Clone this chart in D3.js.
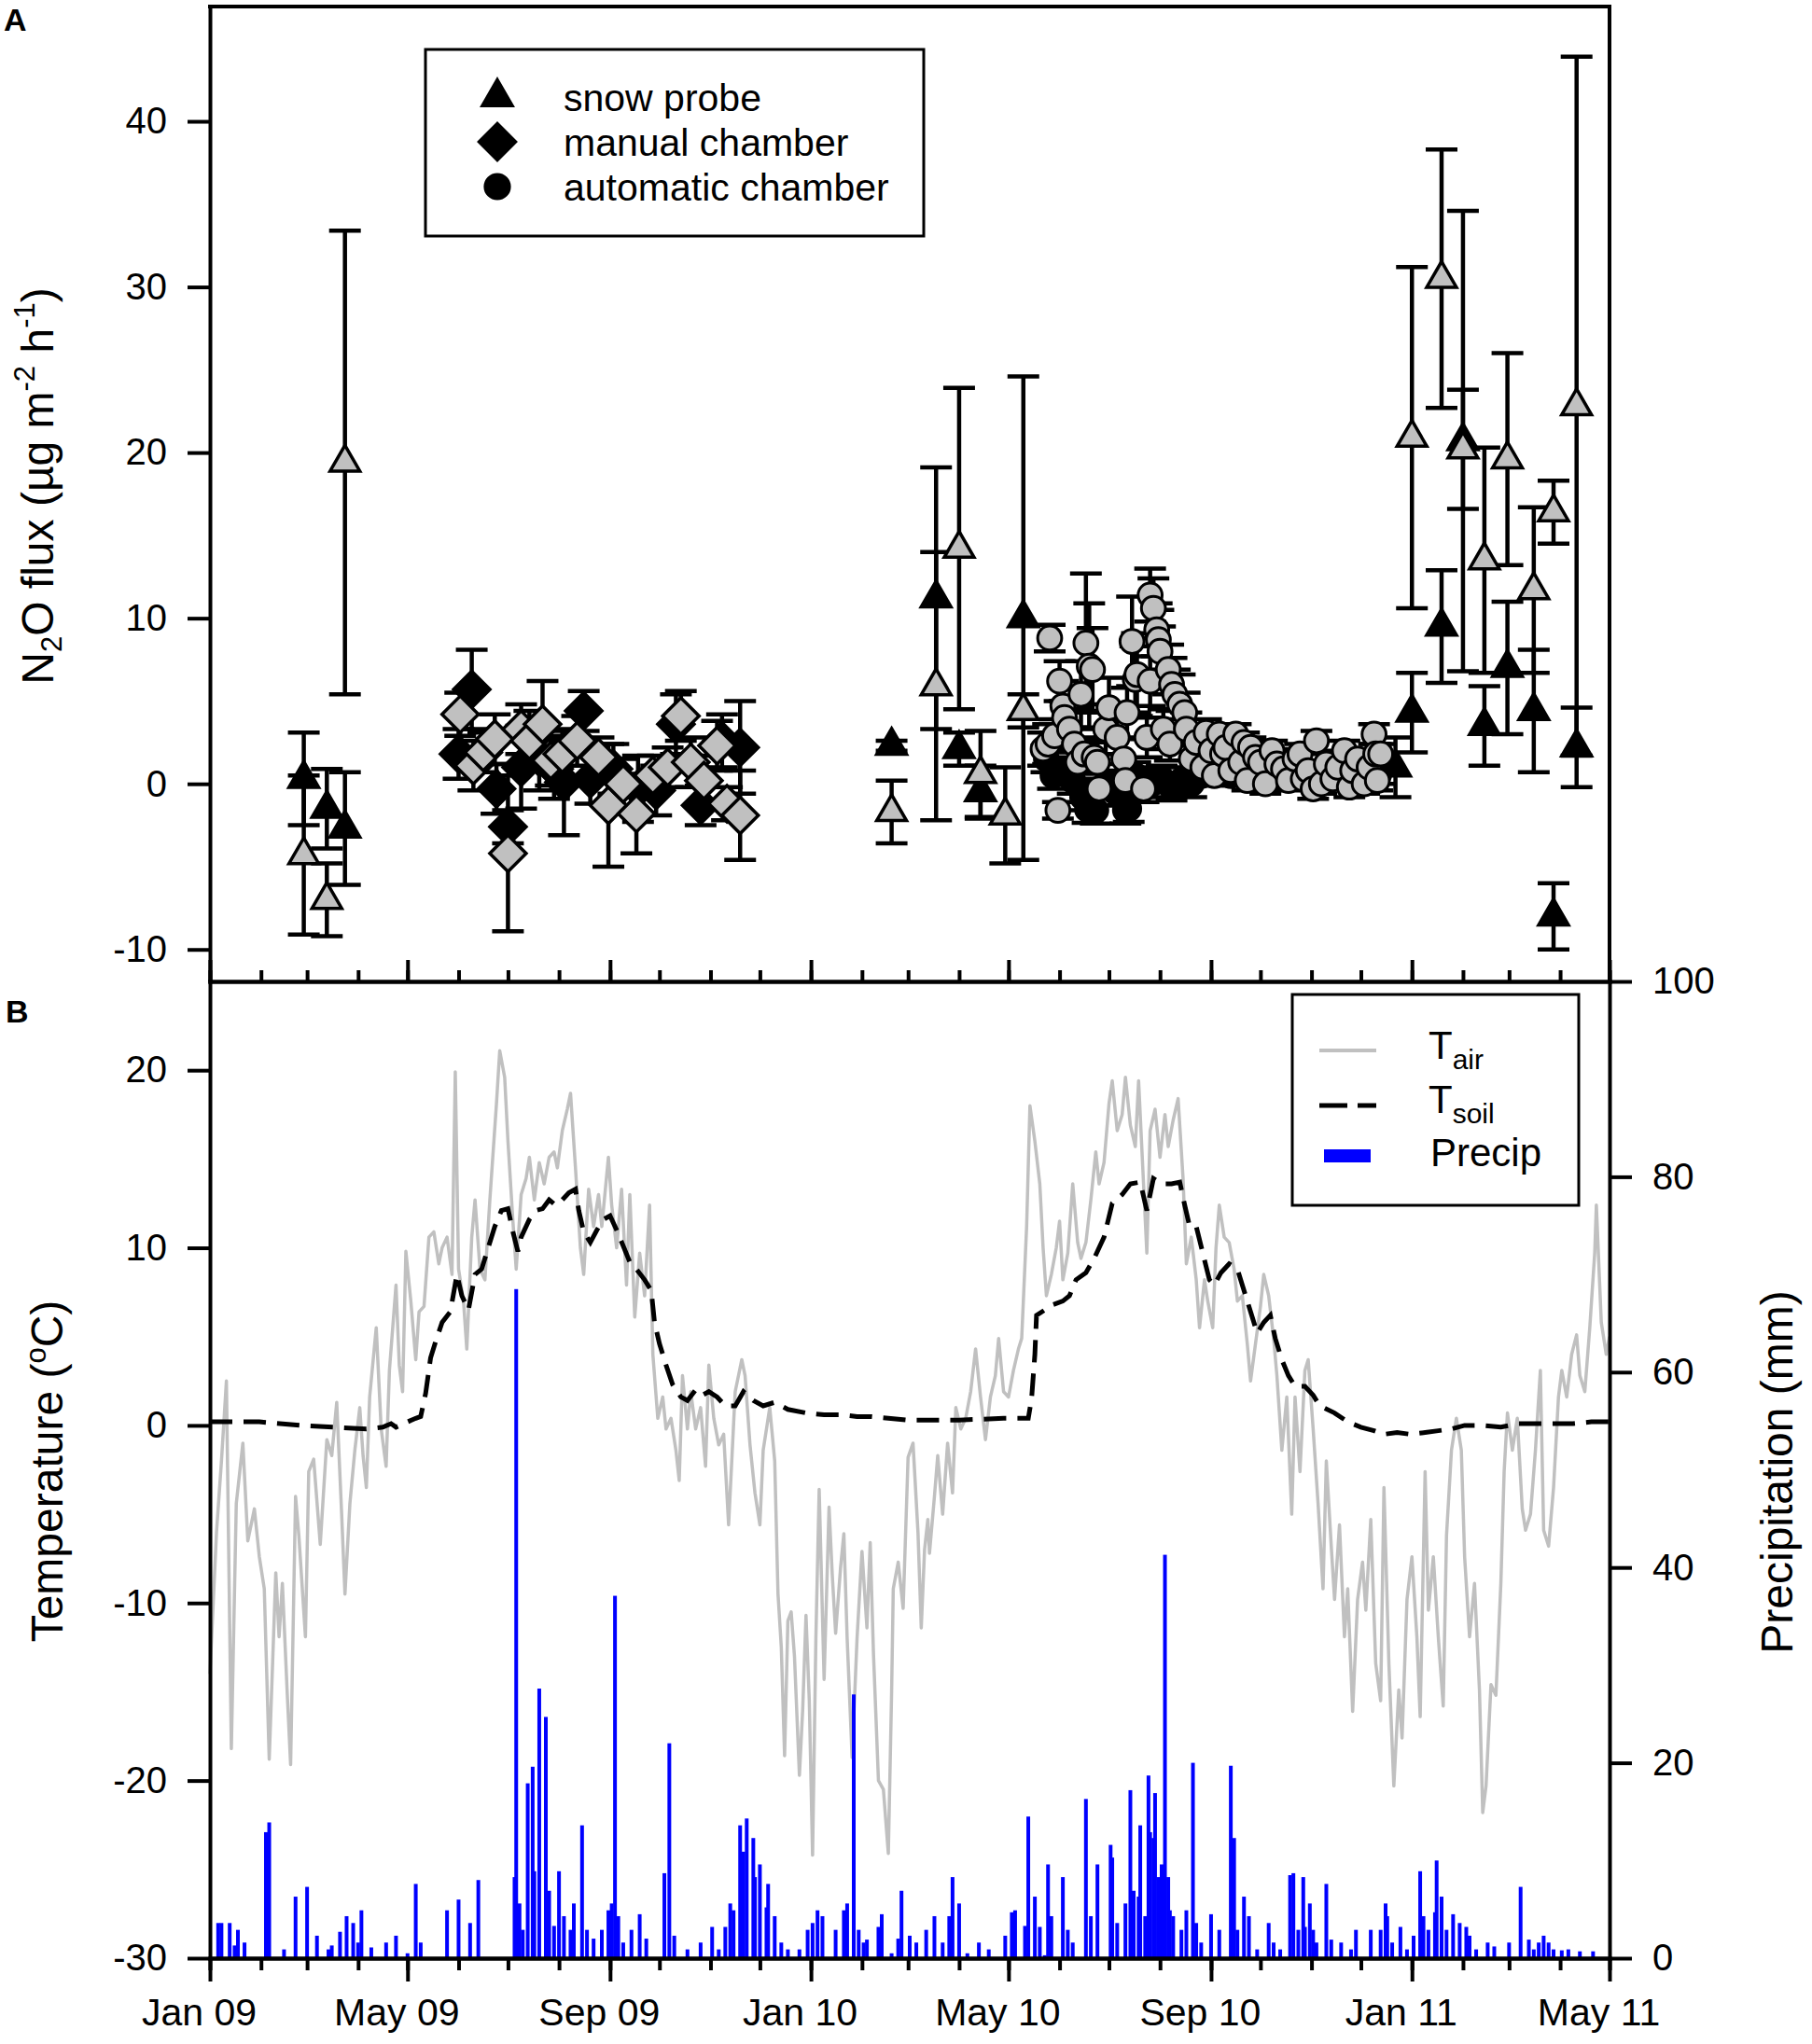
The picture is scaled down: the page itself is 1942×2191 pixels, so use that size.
<!DOCTYPE html>
<html>
<head>
<meta charset="utf-8">
<script src="https://cdn.jsdelivr.net/npm/d3@7"></script>
<style>
  body { margin: 0; background: #fff; }
  svg { display: block; font-family: "Liberation Sans", Arial, sans-serif; }
</style>
</head>
<body>
<svg id="chart" width="1942" height="2191"></svg>
<script>
// Data: days are counted from 1 Jan 2009
// Snow probe [day, flux, error]
const snowProbeBlack = [
  [57, 0.3, 2.8], [71, -1.5, 2.4], [82, -2.7, 3.4],
  [414, 2.3, 0.3], [441, 11.2, 7.9], [455, 2.1, 1.0], [468, -0.5, 1.6], [494, 10.0, 14.6],
  [720, 1.0, 1.8], [730, 4.3, 2.4], [748, 9.5, 3.4], [761, 20.7, 13.9], [774, 3.5, 2.4],
  [788, 7.0, 4.0], [804, 4.4, 3.7], [816, -8.0, 2.0], [830, 2.2, 2.4]
];
const snowProbeGray = [
  [57, -4.3, 4.8], [71, -7.0, 2.2], [82, 19.4, 14.0],
  [414, -1.7, 1.9], [441, 5.9, 8.1], [455, 14.2, 9.7], [468, 0.6, 2.6], [483, -1.9, 2.9], [494, 4.4, 1.0],
  [730, 20.9, 10.3], [748, 30.5, 7.8], [761, 20.2, 3.6], [774, 13.5, 6.8],
  [788, 19.6, 6.4], [804, 11.7, 5.0], [816, 16.4, 1.9], [830, 22.8, 21.1]
];

// Manual chamber [day, flux, error]
const manualBlack = [
  [151, 1.8, 1.5], [159, 5.7, 2.4], [174, -0.3, 1.5], [181, -2.6, 1.0], [189, 1.0, 2.5],
  [200, 1.6, 2.0], [209, 0.9, 1.8], [215, 0.1, 3.2], [227, 4.4, 1.2], [231, 0.3, 1.5],
  [245, 0.9, 1.5], [260, -0.3, 2.0], [271, -0.4, 1.5], [283, 3.6, 1.8], [298, -1.3, 1.2],
  [311, 2.6, 1.6], [322, 2.2, 2.8]
];
const manualGray = [
  [152, 4.2, 1.3], [160, 1.1, 1.5], [166, 1.9, 1.2], [173, 2.7, 1.5], [181, -4.2, 4.7],
  [189, 3.3, 1.5], [194, 2.6, 1.8], [202, 3.6, 2.6], [207, 1.4, 1.5], [214, 1.8, 1.4],
  [223, 2.6, 1.5], [236, 1.6, 1.2], [242, -1.3, 3.7], [251, 0.0, 1.5], [259, -1.8, 2.4],
  [269, 0.5, 1.2], [278, 1.0, 1.2], [286, 4.1, 1.5], [292, 1.3, 1.5], [300, 0.2, 1.5],
  [308, 2.3, 1.5], [314, -1.2, 1.0], [322, -1.9, 2.7]
];

// Automatic chamber [day, flux, error]
const autoBlack = [
  [508, 1.5, 0.8], [512, 0.5, 0.8], [518, 0.8, 0.8], [524, 0.2, 0.8], [530, -0.8, 0.8],
  [533, -1.55, 0.8], [538, -1.6, 0.8], [544, 0.0, 0.8], [550, -0.5, 0.8], [556, -1.6, 0.8],
  [558, -1.5, 0.8], [562, 0.5, 0.8], [566, 0.2, 0.8], [572, 0.0, 0.8], [578, 0.3, 0.8],
  [584, -0.2, 0.8], [590, 0.2, 0.8], [596, 0.0, 0.8], [602, 0.5, 0.6], [610, 0.8, 0.6],
  [620, 0.5, 0.6], [630, 0.8, 0.6], [640, 0.5, 0.6], [650, 0.3, 0.6], [660, 0.6, 0.6],
  [670, 0.4, 0.6], [680, 0.5, 0.6], [690, 0.6, 0.6], [700, 0.4, 0.6], [710, 0.6, 0.6]
];
const autoGray = [
  [506, 2.1, 1.0], [509, 2.4, 1.2], [510, 8.8, 0.8], [513, 2.9, 1.0], [515, -1.6, 0.5],
  [516, 6.2, 1.2], [518, 4.7, 1.5], [519, 4.0, 1.0], [522, 3.3, 1.2], [525, 2.4, 1.0],
  [527, 1.3, 1.0], [529, 5.4, 2.0], [531, 1.8, 1.0], [532, 8.5, 4.2], [534, 7.1, 3.8],
  [536, 6.9, 2.5], [537, 1.6, 1.0], [539, 1.3, 1.2], [540, -0.3, 1.0], [544, 3.3, 1.5],
  [546, 4.6, 1.8], [551, 2.8, 1.0], [555, 1.5, 1.2], [556, 0.2, 1.0], [557, 4.3, 1.5],
  [560, 8.6, 2.7], [562, 6.3, 2.0], [563, 6.6, 2.5], [567, -0.3, 0.8], [569, 2.8, 1.2],
  [571, 6.2, 1.5], [571, 11.4, 1.6], [573, 10.6, 1.8], [575, 9.3, 1.6], [576, 8.7, 1.8],
  [577, 8.0, 1.5], [579, 3.3, 1.2], [582, 6.9, 1.5], [583, 2.4, 1.0], [584, 6.0, 1.6],
  [586, 5.4, 1.5], [589, 4.8, 1.8], [592, 4.3, 1.2], [593, 3.3, 1.0], [596, 1.5, 0.8],
  [599, 2.5, 0.8], [603, 1.0, 0.8], [605, 3.1, 0.8], [608, 2.0, 0.6], [610, 0.5, 0.6],
  [613, 3.0, 0.6], [615, 1.8, 0.6], [617, 2.2, 0.6], [620, 0.8, 0.6], [623, 3.0, 0.6],
  [626, 1.3, 0.6], [628, 2.5, 0.6], [630, 0.2, 0.6], [632, 2.2, 0.6], [635, 1.6, 0.6],
  [638, 1.3, 0.6], [641, 0.0, 0.6], [645, 2.0, 0.6], [648, 1.2, 0.6], [652, 0.9, 0.6],
  [655, 0.2, 0.6], [659, 1.5, 0.6], [662, 1.8, 0.6], [664, 0.3, 0.6], [667, 0.8, 0.6],
  [670, -0.3, 0.6], [672, 2.6, 0.6], [675, 0.0, 0.6], [678, 1.2, 0.6], [682, 0.3, 0.6],
  [685, 1.0, 0.6], [689, 2.0, 0.6], [692, -0.2, 0.6], [694, 0.8, 0.6], [697, 1.5, 0.6],
  [701, 0.0, 0.6], [704, 1.0, 0.6], [707, 3.0, 0.6], [708, 1.8, 0.6], [709, 0.2, 0.6],
  [711, 1.8, 0.6]
];

// Air temperature [day, degC]
const airTemp = [
  [0, -14], [3, -8], [4, -6], [7, -2], [10, 2.5], [13, -18.2], [16, -4.4], [20, -1.0], [23, -6.5],
  [27, -4.7], [30, -7.4], [33, -9.2], [36, -18.8], [40, -8.3], [42, -11.9], [44, -8.9], [47, -15.2],
  [49, -19.1], [52, -4.0], [54, -6.2], [58, -11.9], [60, -2.6], [63, -1.9], [67, -6.7], [71, -0.8],
  [74, -1.7], [77, 1.3], [80, -5.0], [82, -9.5], [85, -4.4], [88, -1.4], [91, 1.0], [93, -1.7],
  [95, -3.5], [97, 1.6], [101, 5.5], [104, -0.2], [107, -2.3], [109, 3.1], [113, 7.9], [115, 3.4],
  [117, 1.9], [119, 9.8], [122, 7.0], [125, 3.7], [127, 6.4], [130, 6.7], [133, 10.6], [136, 10.9],
  [139, 9.1], [141, 10.0], [144, 10.6], [147, 8.5], [149, 19.9], [151, 8.8], [154, 7.0], [156, 4.3],
  [159, 10.6], [161, 12.7], [164, 8.8], [167, 8.2], [170, 12.7], [174, 18.1], [176, 21.1], [179, 19.6],
  [181, 16.0], [184, 11.5], [186, 8.8], [189, 13.0], [192, 13.9], [194, 15.1], [197, 12.7], [200, 14.8],
  [203, 13.6], [206, 15.1], [209, 15.4], [211, 14.5], [214, 16.6], [217, 17.8], [219, 18.7], [222, 14.5],
  [225, 10.0], [227, 8.5], [230, 13.3], [233, 11.2], [236, 13.0], [238, 11.2], [242, 15.1], [244, 12.4],
  [247, 10.0], [250, 13.3], [253, 7.9], [255, 13.0], [258, 6.1], [261, 9.7], [264, 7.3], [267, 12.4],
  [269, 4.0], [272, 0.4], [275, 1.6], [277, -0.2], [280, 0.4], [283, -1.4], [285, -3.1], [287, 2.8],
  [290, -0.2], [292, 1.9], [295, -0.2], [298, 1.0], [301, -2.3], [303, 3.4], [306, 0.4], [309, -1.1],
  [312, -0.5], [315, -5.6], [319, 1.9], [323, 3.7], [325, 2.8], [328, -1.1], [331, -3.8], [334, -5.6],
  [336, -1.4], [340, 1.0], [343, -2.0], [345, -9.5], [347, -12.5], [349, -18.6], [351, -11.0],
  [353, -10.5], [355, -13.0], [358, -19.7], [360, -16.0], [362, -10.7], [364, -15.5], [366, -24.2],
  [368, -12.0], [370, -3.6], [373, -14.3], [376, -4.6], [378, -8.5], [380, -11.7], [383, -8.0],
  [385, -6.1], [387, -12.0], [390, -18.7], [393, -12.0], [396, -7.1], [399, -11.4], [401, -6.6],
  [403, -12.9], [406, -20.0], [409, -20.5], [412, -24.1], [414, -15.0], [415, -9.2], [418, -7.7],
  [421, -10.3], [424, -1.8], [427, -1.0], [430, -6.0], [432, -11.4], [434, -7.0], [436, -5.3],
  [437, -7.2], [440, -4.0], [442, -1.7], [445, -5.0], [448, -1.0], [451, -3.8], [453, 1.0],
  [456, -0.2], [459, 0.4], [462, 1.9], [465, 4.3], [468, 1.6], [471, -0.8], [474, 1.6], [477, 2.8],
  [479, 4.9], [482, 1.9], [485, 1.6], [488, 3.1], [491, 4.3], [493, 4.9], [496, 11.2], [498, 18.0],
  [501, 16.0], [504, 13.6], [506, 10.0], [508, 7.3], [511, 8.5], [514, 10.0], [516, 11.5], [518, 8.2],
  [521, 9.7], [524, 13.6], [527, 10.3], [529, 9.4], [532, 10.3], [535, 12.7], [538, 15.4], [540, 13.6],
  [543, 14.8], [546, 18.1], [548, 19.4], [551, 16.6], [554, 17.5], [556, 19.6], [559, 16.9], [562, 15.7],
  [564, 19.4], [567, 13.6], [569, 9.7], [571, 16.6], [574, 17.8], [577, 15.1], [580, 17.5], [582, 15.7],
  [585, 17.2], [588, 18.4], [591, 13.9], [593, 9.1], [596, 10.6], [599, 8.2], [601, 5.5], [604, 8.2],
  [606, 7.0], [609, 5.5], [611, 10.0], [613, 12.4], [616, 10.6], [619, 10.3], [622, 8.8], [624, 7.0],
  [627, 7.3], [630, 4.6], [632, 2.5], [635, 4.6], [638, 6.7], [640, 8.5], [643, 7.3], [646, 4.9],
  [648, 2.8], [651, -1.4], [654, 1.6], [657, -5.0], [659, 1.6], [662, -2.6], [665, 3.1], [667, 3.7],
  [670, -0.2], [673, -4.4], [676, -9.2], [678, -2.0], [681, -6.8], [683, -9.8], [686, -5.6], [689, -11.9],
  [691, -9.2], [694, -16.1], [697, -9.8], [700, -7.7], [702, -10.4], [705, -5.3], [708, -13.4],
  [711, -15.5], [713, -3.5], [716, -13.4], [719, -20.3], [722, -14.9], [724, -17.6], [727, -9.8],
  [730, -7.4], [733, -11.9], [735, -16.4], [738, -2.6], [740, -10.4], [743, -7.4], [746, -11.9],
  [749, -15.8], [751, -6.2], [754, -1.4], [757, 0.4], [760, -1.4], [762, -7.4], [765, -11.9],
  [768, -8.9], [771, -14.9], [773, -21.8], [775, -20.3], [778, -14.6], [781, -15.2], [784, -8.9],
  [786, -2.6], [788, 0.7], [791, -1.4], [794, 0.4], [797, -4.7], [799, -5.9], [802, -5.0], [805, -1.4],
  [808, 3.1], [810, -5.9], [813, -6.8], [816, -3.5], [819, 1.6], [821, 3.1], [824, 1.6], [827, 4.0],
  [830, 5.1], [832, 2.8], [835, 1.9], [838, 5.5], [841, 9.7], [842, 12.4], [845, 5.8], [848, 4.0], [850, 5.0]
];

// Soil temperature [day, degC]
const soilTemp = [
  [0, 0.2], [30, 0.2], [55, 0.0], [75, -0.1], [95, -0.2], [105, -0.1], [110, 0.1], [113, -0.1],
  [120, 0.2], [125, 0.4], [128, 0.5], [131, 1.8], [134, 3.8], [137, 4.7], [141, 5.8], [146, 6.4],
  [150, 8.5], [153, 7.3], [157, 6.5], [161, 8.5], [165, 8.8], [169, 10.0], [173, 11.2], [177, 12.1],
  [181, 12.2], [184, 10.9], [187, 9.8], [189, 10.6], [194, 11.6], [198, 12.1], [202, 12.2], [206, 12.7],
  [210, 12.4], [214, 12.7], [218, 13.1], [222, 13.3], [224, 12.1], [227, 10.9], [231, 10.3], [235, 11.0],
  [239, 11.6], [243, 11.8], [247, 11.0], [251, 10.1], [255, 9.2], [259, 8.8], [264, 8.2], [268, 7.6],
  [270, 5.8], [273, 4.6], [277, 3.4], [281, 2.3], [286, 1.6], [290, 1.4], [295, 2.0], [299, 1.7],
  [303, 1.9], [308, 1.6], [313, 1.1], [319, 1.1], [324, 1.9], [330, 1.4], [336, 1.1], [343, 1.3],
  [351, 0.9], [362, 0.7], [373, 0.6], [384, 0.6], [393, 0.5], [401, 0.5], [412, 0.4], [423, 0.3],
  [435, 0.3], [455, 0.3], [482, 0.4], [497, 0.4], [499, 1.5], [501, 4.0], [502, 6.2], [507, 6.5],
  [512, 6.8], [518, 7.0], [522, 7.3], [526, 8.2], [532, 8.6], [537, 9.4], [543, 10.6], [548, 12.5],
  [554, 13.0], [559, 13.6], [565, 13.7], [569, 12.1], [573, 13.9], [578, 13.6], [584, 13.6], [589, 13.7],
  [592, 12.4], [595, 11.2], [599, 11.2], [603, 9.7], [607, 8.2], [610, 7.9], [614, 8.6], [619, 9.1],
  [624, 8.8], [628, 7.6], [632, 6.4], [636, 5.2], [640, 5.8], [644, 6.2], [647, 4.9], [651, 3.7],
  [655, 2.8], [659, 2.2], [665, 2.2], [670, 1.7], [674, 1.1], [683, 0.7], [691, 0.2], [699, -0.1],
  [707, -0.3], [713, -0.5], [721, -0.4], [729, -0.5], [738, -0.4], [746, -0.3], [754, -0.2], [762, 0.0],
  [773, 0.0], [784, -0.1], [795, 0.1], [806, 0.1], [817, 0.1], [828, 0.1], [839, 0.2], [850, 0.2]
];

// Daily precipitation [day, mm]
const precip = [
  [5, 3.6], [7, 3.6], [12, 3.6], [15, 1.3], [17, 2.9], [21, 1.6], [34, 12.9], [36, 13.9], [45, 0.9],
  [52, 6.3], [59, 7.3], [65, 2.3], [72, 0.9], [74, 1.3], [79, 2.7], [83, 4.3], [87, 3.6], [90, 1.6],
  [92, 4.9], [98, 1.1], [107, 1.6], [113, 2.3], [120, 0.5], [125, 7.6], [128, 1.6], [144, 4.9],
  [151, 6.0], [158, 3.6], [163, 8.0], [185, 8.3], [186, 68.5], [188, 5.6], [190, 2.9], [193, 17.9],
  [196, 19.6], [197, 8.9], [200, 27.6], [204, 24.7], [206, 6.9], [209, 3.3], [212, 8.9], [215, 4.3],
  [219, 2.9], [221, 5.6], [226, 13.6], [229, 2.9], [233, 2.0], [238, 2.9], [242, 4.9], [244, 5.6],
  [246, 37.1], [248, 4.3], [251, 1.6], [256, 2.9], [261, 4.5], [265, 2.0], [276, 8.7], [279, 22.0],
  [282, 2.3], [290, 0.9], [298, 1.6], [305, 3.2], [309, 0.9], [313, 3.2], [316, 5.6], [318, 4.9],
  [322, 13.6], [324, 10.9], [326, 14.3], [330, 12.3], [331, 8.3], [334, 9.6], [338, 5.2], [339, 7.6],
  [343, 4.3], [347, 1.6], [351, 0.9], [358, 0.9], [363, 2.9], [366, 3.6], [369, 4.9], [372, 4.3],
  [380, 2.9], [385, 4.9], [387, 5.6], [391, 27.0], [394, 2.9], [397, 1.6], [399, 1.9], [406, 3.2],
  [408, 4.5], [414, 0.5], [418, 2.0], [420, 6.9], [425, 2.3], [429, 1.6], [435, 2.9], [440, 4.3],
  [445, 1.6], [449, 4.3], [451, 8.3], [455, 5.6], [460, 0.5], [467, 1.6], [473, 0.9], [483, 2.3],
  [487, 4.7], [489, 4.9], [495, 3.3], [497, 14.5], [501, 6.3], [504, 3.2], [507, 0.3], [509, 9.6],
  [511, 4.3], [518, 8.3], [521, 2.9], [524, 1.6], [532, 16.3], [535, 4.3], [539, 9.6], [547, 11.6],
  [548, 10.3], [551, 3.6], [556, 5.6], [559, 17.2], [561, 6.9], [564, 6.3], [565, 13.6], [568, 4.3],
  [570, 18.7], [571, 12.9], [573, 12.3], [574, 16.9], [576, 8.3], [578, 9.6], [580, 41.3], [582, 8.3],
  [583, 4.9], [585, 4.3], [590, 2.9], [593, 4.9], [597, 20.0], [599, 3.6], [602, 1.6], [608, 4.5],
  [613, 2.9], [620, 19.7], [622, 12.3], [624, 2.9], [628, 6.3], [631, 4.3], [636, 0.9], [643, 3.6],
  [646, 1.6], [650, 0.9], [656, 8.5], [658, 8.7], [661, 2.9], [664, 8.3], [665, 3.2], [668, 5.6],
  [670, 2.9], [672, 1.6], [678, 7.6], [681, 1.9], [687, 1.6], [693, 0.9], [696, 2.9], [705, 2.9],
  [711, 2.9], [714, 5.6], [715, 4.3], [718, 1.6], [723, 3.2], [727, 0.9], [731, 2.3], [735, 8.9],
  [737, 4.3], [740, 2.9], [744, 4.7], [745, 10.0], [748, 6.3], [751, 2.9], [755, 4.5], [759, 3.6],
  [763, 3.2], [765, 2.3], [769, 0.9], [776, 1.6], [780, 1.2], [789, 1.6], [796, 7.3], [801, 1.9],
  [804, 0.9], [807, 1.6], [810, 2.3], [813, 1.6], [816, 0.9], [821, 0.8], [825, 0.9], [832, 0.7], [840, 0.7]
];

// Axis ticks and labels
const fluxTicks = [-10, 0, 10, 20, 30, 40];
const tempTicks = [-30, -20, -10, 0, 10, 20];
const precipTicks = [0, 20, 40, 60, 80, 100];
const legendA = ['snow probe', 'manual chamber', 'automatic chamber'];

// Layout
const FRAME = { left: 225, right: 1725, top: 7, mid: 1052, bottom: 2099 };
const GRAY = '#c0c0c0';
const BLUE = '#0000ff';
const START = new Date(2009, 0, 1);
const END = new Date(2011, 4, 1);

const svg = d3.select('#chart');
const toDate = d => d3.timeDay.offset(START, d);
const plainNumber = d => String(d); // hyphen minus, as in the original

const x = d3.scaleTime().domain([START, END]).range([FRAME.left, FRAME.right]);
const yFlux = d3.scaleLinear().domain([-11.93, 46.93]).range([FRAME.mid, FRAME.top]);
const yTemp = d3.scaleLinear().domain([-30, 25]).range([FRAME.bottom, FRAME.mid]);
const yPrecip = d3.scaleLinear().domain([0, 100]).range([FRAME.bottom, FRAME.mid]);

const months = d3.timeMonth.range(START, d3.timeDay.offset(END, 1));
const majors = months.filter(m => m.getMonth() % 4 === 0);

/**
 * Applies the thick black look of the original axes
 */
function styleAxis(g, fontSize) {
  g.attr('font-family', '"Liberation Sans", Arial, sans-serif')
    .attr('font-size', fontSize);
  g.selectAll('.domain').attr('stroke-width', 4).attr('stroke-linecap', 'square');
  g.selectAll('.tick line').attr('stroke-width', 4);
  g.selectAll('.tick text').attr('fill', '#000');
  return g;
}

// ---------- Panel A ----------
const panelA = svg.append('g');

// frame top and right
panelA.append('path')
  .attr('d', `M${x.range()[0]},${yFlux.range()[1]}H${x.range()[1]}V${yFlux.range()[0]}`)
  .attr('fill', 'none').attr('stroke', '#000').attr('stroke-width', 4).attr('stroke-linecap', 'square');

styleAxis(panelA.append('g')
  .attr('transform', `translate(${FRAME.left},0)`)
  .call(d3.axisLeft(yFlux).tickValues(fluxTicks).tickFormat(plainNumber)
    .tickSize(24).tickPadding(22).tickSizeOuter(0)), 40);

styleAxis(panelA.append('g')
  .attr('transform', `translate(0,${FRAME.mid})`)
  .call(d3.axisTop(x).tickValues(months).tickSize(12).tickFormat('').tickSizeOuter(0)), 40);
styleAxis(panelA.append('g')
  .attr('transform', `translate(0,${FRAME.mid})`)
  .call(d3.axisTop(x).tickValues(majors).tickSize(23).tickFormat('').tickSizeOuter(0)), 40);

/**
 * Draws symmetric error bars with caps
 */
function drawErrorBars(data) {
  const g = panelA.append('g').attr('stroke', '#000').attr('stroke-width', 4.5);
  data.forEach(([d, v, e]) => {
    const cx = x(toDate(d));
    g.append('line').attr('x1', cx).attr('x2', cx).attr('y1', yFlux(v - e)).attr('y2', yFlux(v + e));
    [v - e, v + e].forEach(end => {
      g.append('line').attr('x1', cx - 17).attr('x2', cx + 17).attr('y1', yFlux(end)).attr('y2', yFlux(end));
    });
  });
}

const triangle = d3.symbol(d3.symbolTriangle, 440)();
const diamond = d3.symbol(d3.symbolSquare, 760)();
const circle = d3.symbol(d3.symbolCircle, 520)();

/**
 * Draws markers of one series
 */
function drawMarkers(data, path, fill, rotate, strokeWidth) {
  panelA.append('g').selectAll('path')
    .data(data)
    .join('path')
    .attr('d', path)
    .attr('transform', d => `translate(${x(toDate(d[0]))},${yFlux(d[1])})${rotate ? ' rotate(45)' : ''}`)
    .attr('fill', fill)
    .attr('stroke', '#000')
    .attr('stroke-width', strokeWidth || 3.5);
}

[snowProbeBlack, snowProbeGray, manualBlack, manualGray, autoBlack, autoGray].forEach(drawErrorBars);
drawMarkers(snowProbeBlack, triangle, '#000');
drawMarkers(snowProbeGray, triangle, GRAY);
drawMarkers(manualBlack, diamond, '#000', true);
drawMarkers(manualGray, diamond, GRAY, true);
drawMarkers(autoBlack, circle, '#000', false, 3);
drawMarkers(autoGray, circle, GRAY, false, 3);

// legend A
const legA = panelA.append('g');
legA.append('rect').attr('x', 456).attr('y', 53).attr('width', 534).attr('height', 200)
  .attr('fill', '#fff').attr('stroke', '#000').attr('stroke-width', 3);
[triangle, diamond, circle].forEach((p, i) => {
  legA.append('path').attr('d', p)
    .attr('transform', `translate(533,${104 + i * 48})${i === 1 ? ' rotate(45)' : ''}`)
    .attr('fill', '#000').attr('stroke', '#000').attr('stroke-width', 3.5);
});
legA.selectAll('text').data(legendA).join('text')
  .attr('x', 604).attr('y', (d, i) => 119 + i * 48)
  .attr('font-size', 41).text(d => d);

// y title A
const titleA = svg.append('text')
  .attr('transform', 'translate(57,521) rotate(-90)')
  .attr('text-anchor', 'middle').attr('font-size', 48);
titleA.append('tspan').text('N');
titleA.append('tspan').attr('font-size', 31).attr('dy', 9).text('2');
titleA.append('tspan').attr('dy', -9).text('O flux (µg m');
titleA.append('tspan').attr('font-size', 31).attr('dy', -20).text('-2');
titleA.append('tspan').attr('dy', 20).text(' h');
titleA.append('tspan').attr('font-size', 31).attr('dy', -20).text('-1');
titleA.append('tspan').attr('dy', 20).text(')');

svg.append('text').attr('x', 4).attr('y', 33).attr('font-size', 34).attr('font-weight', 'bold').text('A');

// ---------- Panel B ----------
const panelB = svg.append('g');

const tempLine = d3.line().x(d => x(toDate(d[0]))).y(d => yTemp(d[1]));
panelB.append('path').datum(airTemp)
  .attr('d', tempLine).attr('fill', 'none').attr('stroke', GRAY).attr('stroke-width', 3.5)
  .attr('stroke-linejoin', 'round');

panelB.append('g').selectAll('rect')
  .data(precip)
  .join('rect')
  .attr('x', d => x(toDate(d[0])) - 2)
  .attr('width', 4)
  .attr('y', d => yPrecip(d[1]))
  .attr('height', d => yPrecip(0) - yPrecip(d[1]))
  .attr('fill', BLUE);

panelB.append('path').datum(soilTemp)
  .attr('d', tempLine).attr('fill', 'none').attr('stroke', '#000').attr('stroke-width', 5)
  .attr('stroke-dasharray', '24,12');

styleAxis(panelB.append('g')
  .attr('transform', `translate(${FRAME.left},0)`)
  .call(d3.axisLeft(yTemp).tickValues(tempTicks).tickFormat(plainNumber)
    .tickSize(24).tickPadding(22).tickSizeOuter(0)), 40);

styleAxis(panelB.append('g')
  .attr('transform', `translate(${FRAME.right},0)`)
  .call(d3.axisRight(yPrecip).tickValues(precipTicks).tickFormat(plainNumber)
    .tickSize(24).tickPadding(22).tickSizeOuter(0)), 40);

styleAxis(panelB.append('g')
  .attr('transform', `translate(0,${FRAME.bottom})`)
  .call(d3.axisBottom(x).tickValues(months).tickSize(13).tickFormat('').tickSizeOuter(0)), 40);
const xAxisB = styleAxis(panelB.append('g')
  .attr('transform', `translate(0,${FRAME.bottom})`)
  .call(d3.axisBottom(x).tickValues(majors).tickSize(25).tickPadding(18)
    .tickFormat(d3.timeFormat('%b %y')).tickSizeOuter(0)), 41);
xAxisB.selectAll('.tick text').attr('dx', -12);

// legend B
const legB = panelB.append('g');
legB.append('rect').attr('x', 1385).attr('y', 1066).attr('width', 307).attr('height', 226)
  .attr('fill', '#fff').attr('stroke', '#000').attr('stroke-width', 3);
legB.append('line').attr('x1', 1414).attr('x2', 1475).attr('y1', 1126).attr('y2', 1126)
  .attr('stroke', GRAY).attr('stroke-width', 4);
legB.append('line').attr('x1', 1414).attr('x2', 1475).attr('y1', 1185).attr('y2', 1185)
  .attr('stroke', '#000').attr('stroke-width', 5).attr('stroke-dasharray', '30,11');
legB.append('rect').attr('x', 1419).attr('y', 1232).attr('width', 50).attr('height', 14).attr('fill', BLUE);
[['air', 1135], ['soil', 1193]].forEach(([sub, yb]) => {
  const t = legB.append('text').attr('x', 1531).attr('y', yb).attr('font-size', 42);
  t.append('tspan').text('T');
  t.append('tspan').attr('font-size', 30).attr('dy', 11).text(sub);
});
legB.append('text').attr('x', 1533).attr('y', 1250).attr('font-size', 42).text('Precip');

// y titles B
const titleT = svg.append('text')
  .attr('transform', 'translate(67,1577) rotate(-90)')
  .attr('text-anchor', 'middle').attr('font-size', 48);
titleT.append('tspan').text('Temperature (');
titleT.append('tspan').attr('font-size', 31).attr('dy', -18).text('o');
titleT.append('tspan').attr('dy', 18).text('C)');

svg.append('text')
  .attr('transform', 'translate(1921,1578) rotate(-90)')
  .attr('text-anchor', 'middle').attr('font-size', 48)
  .text('Precipitation (mm)');

svg.append('text').attr('x', 6).attr('y', 1096).attr('font-size', 34).attr('font-weight', 'bold').text('B');
</script>
</body>
</html>
